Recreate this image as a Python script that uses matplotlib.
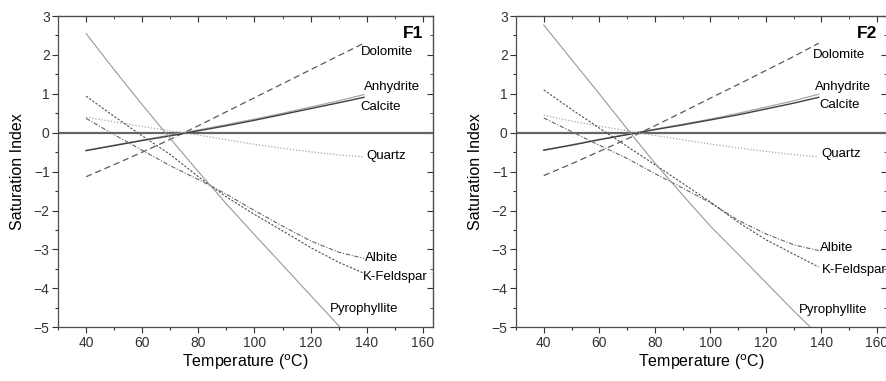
import numpy as np
import matplotlib
matplotlib.use("Agg")
from matplotlib import pyplot as plt

plt.rcParams['font.family'] = ['Liberation Sans', 'DejaVu Sans']

temp = [40, 50, 60, 70, 80, 90, 100, 110, 120, 130, 139]

# F1
dolomite_f1 = [-1.13, -0.82, -0.50, -0.17, 0.18, 0.54, 0.90, 1.26, 1.62, 1.98, 2.30]
anhydrite_f1 = [-0.45, -0.32, -0.19, -0.06, 0.07, 0.21, 0.35, 0.50, 0.66, 0.82, 0.98]
calcite_f1 = [-0.46, -0.33, -0.20, -0.08, 0.05, 0.18, 0.32, 0.47, 0.62, 0.77, 0.91]
quartz_f1 = [0.40, 0.28, 0.16, 0.05, -0.06, -0.18, -0.30, -0.40, -0.49, -0.57, -0.62]
albite_f1 = [0.37, -0.05, -0.45, -0.85, -1.20, -1.58, -2.00, -2.40, -2.78, -3.07, -3.23]
kfeldspar_f1 = [0.94, 0.42, -0.08, -0.56, -1.13, -1.65, -2.10, -2.52, -2.95, -3.33, -3.61]
pyrophyllite_f1 = [2.55, 1.62, 0.72, -0.15, -1.00, -1.83, -2.62, -3.40, -4.18, -4.96, -5.66]

# F2
dolomite_f2 = [-1.10, -0.80, -0.48, -0.16, 0.18, 0.53, 0.89, 1.24, 1.60, 1.96, 2.30]
anhydrite_f2 = [-0.44, -0.31, -0.17, -0.04, 0.09, 0.22, 0.35, 0.50, 0.66, 0.82, 0.99]
calcite_f2 = [-0.45, -0.32, -0.18, -0.05, 0.08, 0.20, 0.33, 0.46, 0.61, 0.76, 0.91]
quartz_f2 = [0.45, 0.30, 0.17, 0.05, -0.07, -0.18, -0.29, -0.39, -0.48, -0.56, -0.62]
albite_f2 = [0.38, 0.03, -0.32, -0.66, -1.05, -1.42, -1.80, -2.25, -2.60, -2.88, -3.03]
kfeldspar_f2 = [1.10, 0.60, 0.12, -0.35, -0.82, -1.30, -1.78, -2.30, -2.75, -3.12, -3.45]
pyrophyllite_f2 = [2.77, 1.88, 1.00, 0.10, -0.78, -1.60, -2.40, -3.12, -3.85, -4.58, -5.20]

minerals = ['Dolomite', 'Anhydrite', 'Calcite', 'Quartz', 'Albite', 'K-Feldspar', 'Pyrophyllite']
styles = {
    'Dolomite': dict(color='0.35', ls=(0, (5, 3)), lw=0.9),
    'Anhydrite': dict(color='0.65', ls='-', lw=0.9),
    'Calcite': dict(color='0.25', ls='-', lw=1.0),
    'Quartz': dict(color='0.65', ls=(0, (1, 1.5)), lw=0.9),
    'Albite': dict(color='0.4', ls=(0, (4, 1.5, 1, 1.5)), lw=0.8),
    'K-Feldspar': dict(color='0.3', ls=(0, (2, 1.5)), lw=0.8),
    'Pyrophyllite': dict(color='0.6', ls='-', lw=0.8),
}

# label positions (x, y) for each panel
labels_f1 = {'Dolomite': (137.8, 2.08), 'Anhydrite': (138.9, 1.17), 'Calcite': (137.8, 0.67),
             'Quartz': (139.8, -0.6), 'Albite': (139.2, -3.23), 'K-Feldspar': (138.6, -3.72),
             'Pyrophyllite': (127, -4.53)}
labels_f2 = {'Dolomite': (137, 2.0), 'Anhydrite': (137.8, 1.17), 'Calcite': (139.4, 0.71),
             'Quartz': (140, -0.55), 'Albite': (139.4, -2.95), 'K-Feldspar': (140, -3.53),
             'Pyrophyllite': (132, -4.56)}

data_f1 = [dolomite_f1, anhydrite_f1, calcite_f1, quartz_f1, albite_f1, kfeldspar_f1, pyrophyllite_f1]
data_f2 = [dolomite_f2, anhydrite_f2, calcite_f2, quartz_f2, albite_f2, kfeldspar_f2, pyrophyllite_f2]

fig = plt.figure(figsize=(8.87, 3.81), dpi=100)
ax1 = fig.add_axes([58/887, 1-327.3/381, 375/887, 311.3/381])
ax2 = fig.add_axes([516/887, 1-327.3/381, 371/887, 311.3/381])

for ax, data, labs, name in [(ax1, data_f1, labels_f1, 'F1'), (ax2, data_f2, labels_f2, 'F2')]:
    ax.axhline(0, color='0.4', lw=1.6, zorder=1)
    for m, y in zip(minerals, data):
        ax.plot(temp, y, zorder=2, **styles[m])
        ax.text(labs[m][0], labs[m][1], m, fontsize=9.5, ha='left', va='center')
    ax.text(160, 2.55, name, fontsize=12.5, fontweight='bold', ha='right', va='center')
    ax.set_xlim(30, 163.6)
    ax.set_ylim(-5, 3)
    ax.set_xticks([40, 60, 80, 100, 120, 140, 160])
    ax.set_xticks(np.arange(30, 164, 10), minor=True)
    ax.set_yticks([-5, -4, -3, -2, -1, 0, 1, 2, 3])
    ax.set_yticks(np.arange(-5, 3.1, 0.5), minor=True)
    ax.tick_params(which='major', direction='out', length=4, width=0.8, labelsize=10, pad=2, colors='0.2')
    ax.tick_params(which='minor', direction='out', length=2.5, width=0.8, colors='0.2')
    ax.set_xlabel(r'Temperature ($^{\rm o}$C)', fontsize=11.5, labelpad=2)
    ax.set_ylabel('Saturation Index', fontsize=11.5, labelpad=6)
    for s in ax.spines.values():
        s.set_color('0.3')
        s.set_linewidth(0.9)
    top = ax.secondary_xaxis('top')
    top.set_xticks([40, 60, 80, 100, 120, 140, 160])
    top.set_xticks(np.arange(30, 164, 10), minor=True)
    top.tick_params(which='both', direction='in', labeltop=False, colors='0.2')
    top.tick_params(which='major', length=4)
    top.tick_params(which='minor', length=2.5)
    right = ax.secondary_yaxis('right')
    right.set_yticks([-5, -4, -3, -2, -1, 0, 1, 2, 3])
    right.set_yticks(np.arange(-5, 3.1, 0.5), minor=True)
    right.tick_params(which='both', direction='in', labelright=False, colors='0.2')
    right.tick_params(which='major', length=4)
    right.tick_params(which='minor', length=2.5)

fig.savefig('out.png', dpi=100)
